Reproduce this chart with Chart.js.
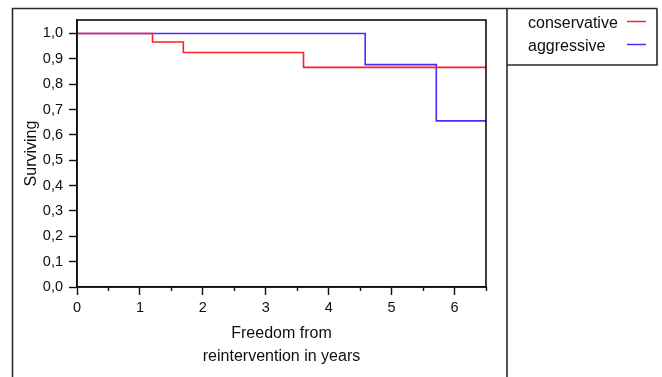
<!DOCTYPE html>
<html>
<head>
<meta charset="utf-8">
<script src="https://cdn.jsdelivr.net/npm/chart.js@4"></script>
<style>
  html, body { margin: 0; padding: 0; background: #fff; overflow: hidden; }
  #wrap { position: relative; width: 662px; height: 377px; }
</style>
</head>
<body>
<div id="wrap"><canvas id="km" width="662" height="377"></canvas></div>
<script>
// Kaplan-Meier step data: event times (years) and survival proportion after each step
const conservativeTimes = [0, 1.2, 1.69, 3.6, 6.5];
const conservativeSurvival = [1.0, 0.966, 0.925, 0.866, 0.866];
const aggressiveTimes = [0, 4.58, 5.71, 6.5];
const aggressiveSurvival = [1.0, 0.877, 0.655, 0.655];
const seriesLabels = ['conservative', 'aggressive'];
const seriesColors = ['rgb(255,32,32)', 'rgb(82,40,255)'];
const xTickValues = [0, 1, 2, 3, 4, 5, 6];
const xMinorTickValues = [0.5, 1.5, 2.5, 3.5, 4.5, 5.5, 6.5];
const yTickValues = [0, 0.1, 0.2, 0.3, 0.4, 0.5, 0.6, 0.7, 0.8, 0.9, 1.0];
const xTitleLines = ['Freedom from', 'reintervention in years'];
const yTitle = 'Surviving';

const FONT = 'Liberation Sans, Arial, sans-serif';
const INK = '#0d0d14';

const toPoints = (xs, ys) => xs.map((x, i) => ({ x: x, y: ys[i] }));

// frame panels, full plot box, minor x ticks and the boxed legend
const decorations = {
  id: 'decorations',
  afterDraw(chart) {
    const ctx = chart.ctx;
    const a = chart.chartArea;
    const xs = chart.scales.x;
    ctx.save();

    // plot box
    ctx.strokeStyle = INK;
    ctx.lineWidth = 1.6;
    ctx.strokeRect(a.left, a.top, a.right - a.left, a.bottom - a.top);

    // minor ticks
    ctx.lineWidth = 1.4;
    ctx.beginPath();
    xMinorTickValues.forEach(v => {
      const px = Math.round(xs.getPixelForValue(v)) + 0.5;
      ctx.moveTo(px, a.bottom);
      ctx.lineTo(px, a.bottom + 4);
    });
    ctx.stroke();

    // outer panels
    ctx.strokeStyle = '#2a2a2a';
    ctx.lineWidth = 1.6;
    ctx.beginPath();
    ctx.moveTo(12.5, 377); ctx.lineTo(12.5, 8.5); ctx.lineTo(657, 8.5);
    ctx.moveTo(507, 8.5); ctx.lineTo(507, 377);
    ctx.moveTo(657, 8.5); ctx.lineTo(657, 65); ctx.lineTo(507, 65);
    ctx.stroke();

    // legend
    ctx.font = '16px ' + FONT;
    ctx.textBaseline = 'middle';
    ctx.textAlign = 'left';
    const rows = [24, 47];
    chart.data.datasets.forEach((ds, i) => {
      ctx.fillStyle = INK;
      ctx.fillText(ds.label, 528, rows[i]);
      ctx.strokeStyle = ds.borderColor;
      ctx.lineWidth = 1.5;
      ctx.beginPath();
      ctx.moveTo(627, rows[i] - 2.5);
      ctx.lineTo(646, rows[i] - 2.5);
      ctx.stroke();
    });
    ctx.restore();
  }
};

new Chart(document.getElementById('km'), {
  type: 'scatter',
  data: {
    datasets: [
      {
        label: seriesLabels[0],
        data: toPoints(conservativeTimes, conservativeSurvival),
        showLine: true,
        stepped: true,
        borderColor: seriesColors[0],
        borderWidth: 1.6,
        pointRadius: 0,
        fill: false
      },
      {
        label: seriesLabels[1],
        data: toPoints(aggressiveTimes, aggressiveSurvival),
        showLine: true,
        stepped: true,
        borderColor: seriesColors[1],
        borderWidth: 1.6,
        pointRadius: 0,
        fill: false
      }
    ]
  },
  options: {
    responsive: false,
    devicePixelRatio: 1,
    animation: false,
    events: [],
    layout: { padding: { left: 0, top: 20, right: 176, bottom: 0 } },
    plugins: { legend: { display: false }, tooltip: { enabled: false } },
    scales: {
      x: {
        type: 'linear',
        min: 0,
        max: 6.5,
        afterBuildTicks: s => { s.ticks = xTickValues.map(v => ({ value: v })); },
        afterFit: s => { s.height = 90; },
        grid: { drawOnChartArea: false, drawTicks: true, tickLength: 8, tickColor: INK, tickWidth: 1.4 },
        border: { display: true, color: INK, width: 1.6 },
        ticks: {
          color: INK,
          padding: 4,
          maxRotation: 0,
          autoSkip: false,
          font: { family: FONT, size: 14.5 },
          callback: v => String(v)
        },
        title: {
          display: true,
          text: xTitleLines,
          color: INK,
          font: { family: FONT, size: 16, lineHeight: '23px' },
          padding: { top: 0, bottom: 9 }
        }
      },
      y: {
        type: 'linear',
        min: 0,
        max: 1.053,
        afterBuildTicks: s => { s.ticks = yTickValues.map(v => ({ value: v })); },
        afterFit: s => { s.width = 77; },
        grid: { drawOnChartArea: false, drawTicks: true, tickLength: 8, tickColor: INK, tickWidth: 1.4 },
        border: { display: true, color: INK, width: 1.6 },
        ticks: {
          color: INK,
          padding: 6,
          autoSkip: false,
          font: { family: FONT, size: 14.5 },
          callback: v => v.toFixed(1).replace('.', ',')
        },
        title: {
          display: true,
          text: yTitle,
          color: INK,
          font: { family: FONT, size: 16 },
          padding: { top: 22, bottom: 0 }
        }
      }
    }
  },
  plugins: [decorations]
});
</script>
</body>
</html>
